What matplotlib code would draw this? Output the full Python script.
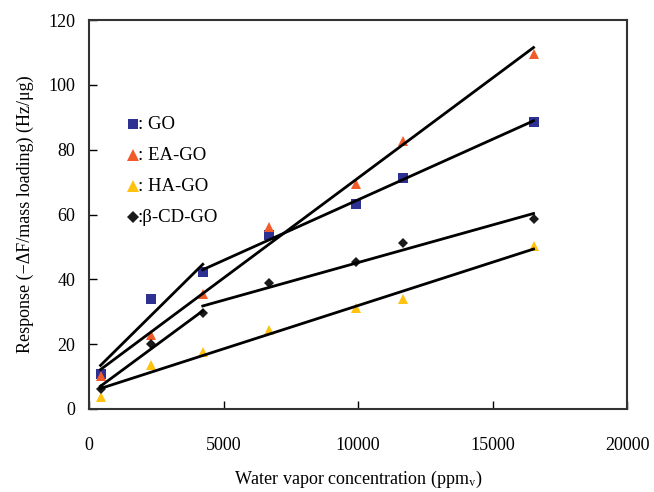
import numpy as np
from matplotlib import pyplot as plt

plt.rcParams['font.family'] = ['Liberation Serif', 'DejaVu Serif']
plt.rcParams['mathtext.fontset'] = 'stix'

# water vapor concentration (ppmv)
conc = [430, 2300, 4230, 6700, 9930, 11660, 16520]

go = [10.8, 33.9, 42.1, 53.6, 63.3, 71.4, 88.7]
ea_go = [10.0, 22.8, 35.5, 56.1, 69.4, 82.8, 109.6]
ha_go = [3.8, 13.6, 17.4, 24.2, 31.1, 34.0, 50.4]
cd_go = [6.2, 20.0, 29.5, 39.0, 45.3, 51.3, 58.5]

x_ticks = [0, 5000, 10000, 15000, 20000]
y_ticks = [0, 20, 40, 60, 80, 100, 120]

fig = plt.figure(figsize=(6.54, 4.92), dpi=100)
ax = fig.add_axes([0.136, 0.169, 0.823, 0.790])

series = [
    (go, 's', '#2E3192', 6.5, ': GO', [(0, 3), (2, 7)]),
    (ea_go, '^', '#F15A29', 7.5, ': EA-GO', [(0, 7)]),
    (ha_go, '^', '#FFC20E', 7.5, ': HA-GO', [(0, 7)]),
    (cd_go, 'D', '#1A1A1A', 5.5, ':\u03b2-CD-GO', [(0, 3), (2, 7)]),
]

x = np.array(conc)
for vals, mk, col, ms, name, segs in series:
    y = np.array(vals)
    for a, b in segs:
        k, c = np.polyfit(x[a:b], y[a:b], 1)
        xs = np.array([x[a], x[b - 1]])
        ax.plot(xs, k * xs + c, color='black', lw=2, zorder=3)
    ax.plot(x, y, linestyle='none', marker=mk, color=col, ms=ms,
            markeredgewidth=0, zorder=2)

# legend written as text inside the plot
for i, (vals, mk, col, ms, name, segs) in enumerate(series):
    yy = 0.732 - i * 0.0795
    ax.plot([0.081], [yy], transform=ax.transAxes, marker=mk, color=col,
            ms=ms + 0.5, markeredgewidth=0, linestyle='none', clip_on=False)
    ax.text(0.091, yy, name, transform=ax.transAxes, fontsize=13.5,
            va='center', ha='left')

ax.set_xlim(0, 20000)
ax.set_ylim(0, 120)
ax.set_xticks(x_ticks)
ax.set_yticks(y_ticks)
ax.tick_params(direction='in', length=6, width=1, labelsize=13)
ax.tick_params(axis='x', pad=20)
ax.tick_params(axis='y', pad=10)
for s in ax.spines.values():
    s.set_linewidth(1.5)
    s.set_color('#333333')

ax.set_xlabel(r'Water vapor concentration (ppm$_\mathrm{v}$)', fontsize=13,
              labelpad=11)
ax.set_ylabel('Response (\u2212\u0394F/mass loading) (Hz/\u03bcg)',
              fontsize=13, labelpad=10)

fig.savefig('out.png', dpi=100)
